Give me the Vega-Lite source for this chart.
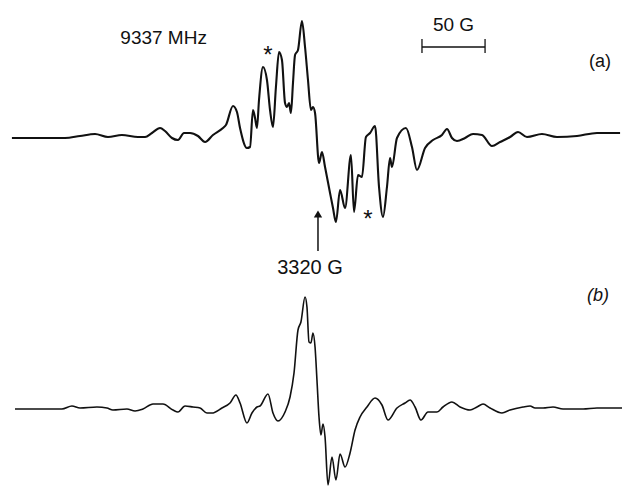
{
  "$schema": "https://vega.github.io/schema/vega-lite/v6.json",
  "padding": 0,
  "spacing": 0,
  "background": "white",
  "config": {"view": {"stroke": null}, "text": {"font": "Liberation Sans", "color": "#111"}},
  "datasets": {
    "a": [
      {"B":3081.3,"s":0},{"B":3122.7,"s":0},{"B":3134.4,"s":2},{"B":3146.1,"s":4},{"B":3156.2,"s":1},{"B":3167.1,"s":3},{"B":3179.6,"s":1},{"B":3185.1,"s":1},{"B":3190.5,"s":5},{"B":3196.8,"s":10},{"B":3200.7,"s":7},{"B":3206.1,"s":0},{"B":3210.8,"s":-2},{"B":3215.5,"s":5},{"B":3220.2,"s":5},{"B":3226.4,"s":2},{"B":3231.9,"s":-4},{"B":3238.1,"s":3},{"B":3245.9,"s":10},{"B":3248.2,"s":13},{"B":3253.7,"s":32},{"B":3256.8,"s":26},{"B":3259.2,"s":10},{"B":3264.6,"s":-10},{"B":3267,"s":-9},{"B":3269.3,"s":28},{"B":3270.9,"s":20},{"B":3272.4,"s":10},{"B":3274,"s":38},{"B":3277.1,"s":71},{"B":3280.2,"s":58},{"B":3282.6,"s":28},{"B":3284.9,"s":11},{"B":3287.2,"s":51},{"B":3289.6,"s":86},{"B":3291.9,"s":78},{"B":3294.3,"s":35},{"B":3295.8,"s":31},{"B":3297.4,"s":35},{"B":3298.9,"s":25},{"B":3300.5,"s":55},{"B":3302.1,"s":83},{"B":3304.4,"s":88},{"B":3307.5,"s":117},{"B":3309.9,"s":91},{"B":3312.2,"s":58},{"B":3314.5,"s":28},{"B":3316.1,"s":31},{"B":3317.7,"s":25},{"B":3320.8,"s":-25},{"B":3323.1,"s":-14},{"B":3325.5,"s":-29},{"B":3329.4,"s":-55},{"B":3331.7,"s":-70},{"B":3334,"s":-84},{"B":3337.2,"s":-52},{"B":3341.1,"s":-70},{"B":3345.7,"s":-17},{"B":3348.1,"s":-74},{"B":3351.2,"s":-37},{"B":3354.3,"s":-39},{"B":3357.4,"s":1},{"B":3360.6,"s":5},{"B":3364.5,"s":12},{"B":3367.6,"s":-49},{"B":3370.7,"s":-79},{"B":3373.8,"s":-49},{"B":3376.2,"s":-20},{"B":3377.7,"s":-29},{"B":3381.6,"s":0},{"B":3388.6,"s":10},{"B":3393.3,"s":-9},{"B":3397.2,"s":-32},{"B":3403.5,"s":-10},{"B":3409.7,"s":-2},{"B":3416.7,"s":3},{"B":3420.6,"s":9},{"B":3424.5,"s":0},{"B":3428.4,"s":-3},{"B":3434.7,"s":0},{"B":3440.9,"s":4},{"B":3447.9,"s":3},{"B":3455.7,"s":-8},{"B":3462,"s":-4},{"B":3469.8,"s":1},{"B":3476,"s":6},{"B":3483,"s":1},{"B":3494.7,"s":4},{"B":3506.4,"s":1},{"B":3522,"s":2},{"B":3537.6,"s":5},{"B":3555.6,"s":5}
    ],
    "b": [
      {"B":3083.7,"s":-1},{"B":3120.3,"s":-1},{"B":3128.1,"s":2},{"B":3134.4,"s":0},{"B":3147.6,"s":1},{"B":3155.4,"s":0},{"B":3160.1,"s":-2},{"B":3171,"s":-1},{"B":3177.3,"s":-3},{"B":3183.5,"s":-1},{"B":3191.3,"s":4},{"B":3199.1,"s":4},{"B":3206.9,"s":-2},{"B":3210.8,"s":-4},{"B":3216.3,"s":2},{"B":3222.5,"s":1},{"B":3228,"s":0},{"B":3233.4,"s":-5},{"B":3237.3,"s":-5},{"B":3245.1,"s":0},{"B":3251.4,"s":5},{"B":3256,"s":13},{"B":3259.2,"s":5},{"B":3264.6,"s":-15},{"B":3268.5,"s":-5},{"B":3272.4,"s":1},{"B":3274.8,"s":2},{"B":3281,"s":14},{"B":3284.9,"s":-5},{"B":3288.8,"s":-13},{"B":3294.3,"s":-4},{"B":3298.2,"s":11},{"B":3301.3,"s":35},{"B":3304.4,"s":78},{"B":3306.7,"s":86},{"B":3309.9,"s":111},{"B":3311.4,"s":101},{"B":3313,"s":66},{"B":3314.5,"s":65},{"B":3316.1,"s":75},{"B":3317.7,"s":61},{"B":3319.2,"s":28},{"B":3320.8,"s":-9},{"B":3322.3,"s":-27},{"B":3323.9,"s":-16},{"B":3325.5,"s":-29},{"B":3327.8,"s":-77},{"B":3330.9,"s":-49},{"B":3334,"s":-72},{"B":3337.2,"s":-46},{"B":3341.1,"s":-59},{"B":3345,"s":-45},{"B":3348.9,"s":-22},{"B":3352.8,"s":-9},{"B":3358.2,"s":1},{"B":3364.5,"s":10},{"B":3369.9,"s":3},{"B":3374.6,"s":-12},{"B":3381.6,"s":0},{"B":3387.9,"s":5},{"B":3391.8,"s":8},{"B":3395.7,"s":1},{"B":3400.3,"s":-12},{"B":3405.8,"s":-4},{"B":3412.8,"s":-4},{"B":3417.5,"s":1},{"B":3424.5,"s":6},{"B":3430.8,"s":1},{"B":3438.6,"s":-2},{"B":3444,"s":1},{"B":3448.7,"s":4},{"B":3454.2,"s":0},{"B":3463.5,"s":-5},{"B":3469.8,"s":-2},{"B":3479.9,"s":1},{"B":3485.4,"s":2},{"B":3489.3,"s":0},{"B":3495.5,"s":0},{"B":3503.3,"s":1},{"B":3511.1,"s":-1},{"B":3526.7,"s":-1},{"B":3537.6,"s":0},{"B":3557.1,"s":0}
    ],
    "labelsA": [
      {"B":3199.6,"s":100,"t":"9337 MHz","size":19,"style":"normal"},
      {"B":3425.7,"s":113,"t":"50 G","size":19,"style":"normal"},
      {"B":3540,"s":76,"t":"(a)","size":18,"style":"italic"},
      {"B":3281,"s":82,"t":"*","size":24,"style":"normal"},
      {"B":3359,"s":-82,"t":"*","size":24,"style":"normal"},
      {"B":3313.8,"s":-130,"t":"3320 G","size":20,"style":"normal"}
    ],
    "bar": [{"B1":3401.1,"B2":3450.3,"s":91}],
    "barTicks": [{"B":3401.1,"s1":85,"s2":99},{"B":3450.3,"s1":85,"s2":99}],
    "arrow": [{"B":3320,"s1":-113,"s2":-76}],
    "labelsB": [{"B":3538.4,"s":112,"t":"(b)"}]
  },
  "vconcat": [
    {
      "width": 622,
      "height": 280,
      "layer": [
        {
          "data": {"name": "a"},
          "mark": {"type": "line", "color": "#111", "strokeWidth": 2.1, "interpolate": "monotone"},
          "encoding": {
            "x": {"field": "B", "type": "quantitative", "axis": null, "scale": {"domain": [3072, 3557.1], "nice": false, "zero": false}},
            "y": {"field": "s", "type": "quantitative", "axis": null, "scale": {"domain": [-142, 138], "nice": false, "zero": false}}
          }
        },
        {
          "data": {"name": "labelsA"},
          "mark": {"type": "text", "align": "center", "baseline": "middle"},
          "encoding": {
            "x": {"field": "B", "type": "quantitative"},
            "y": {"field": "s", "type": "quantitative"},
            "text": {"field": "t"},
            "size": {"field": "size", "type": "quantitative", "scale": null},
            "fontStyle": {"field": "style", "type": "nominal", "scale": null, "legend": null}
          }
        },
        {
          "data": {"name": "bar"},
          "mark": {"type": "rule", "color": "#111", "strokeWidth": 1.3},
          "encoding": {
            "x": {"field": "B1", "type": "quantitative"},
            "x2": {"field": "B2"},
            "y": {"field": "s", "type": "quantitative"}
          }
        },
        {
          "data": {"name": "barTicks"},
          "mark": {"type": "rule", "color": "#111", "strokeWidth": 1.3},
          "encoding": {
            "x": {"field": "B", "type": "quantitative"},
            "y": {"field": "s1", "type": "quantitative"},
            "y2": {"field": "s2"}
          }
        },
        {
          "data": {"name": "arrow"},
          "mark": {"type": "rule", "color": "#111", "strokeWidth": 1.5},
          "encoding": {
            "x": {"field": "B", "type": "quantitative"},
            "y": {"field": "s1", "type": "quantitative"},
            "y2": {"field": "s2"}
          }
        },
        {
          "data": {"name": "arrow"},
          "mark": {"type": "point", "shape": "triangle-up", "filled": true, "color": "#111", "size": 70, "opacity": 1},
          "encoding": {
            "x": {"field": "B", "type": "quantitative"},
            "y": {"field": "s2", "type": "quantitative"}
          }
        }
      ]
    },
    {
      "width": 622,
      "height": 207,
      "layer": [
        {
          "data": {"name": "b"},
          "mark": {"type": "line", "color": "#111", "strokeWidth": 1.6, "interpolate": "monotone"},
          "encoding": {
            "x": {"field": "B", "type": "quantitative", "axis": null, "scale": {"domain": [3072, 3557.1], "nice": false, "zero": false}},
            "y": {"field": "s", "type": "quantitative", "axis": null, "scale": {"domain": [-79, 128], "nice": false, "zero": false}}
          }
        },
        {
          "data": {"name": "labelsB"},
          "mark": {"type": "text", "align": "center", "baseline": "middle", "fontSize": 18, "fontStyle": "italic"},
          "encoding": {
            "x": {"field": "B", "type": "quantitative"},
            "y": {"field": "s", "type": "quantitative"},
            "text": {"field": "t"}
          }
        }
      ]
    }
  ]
}
